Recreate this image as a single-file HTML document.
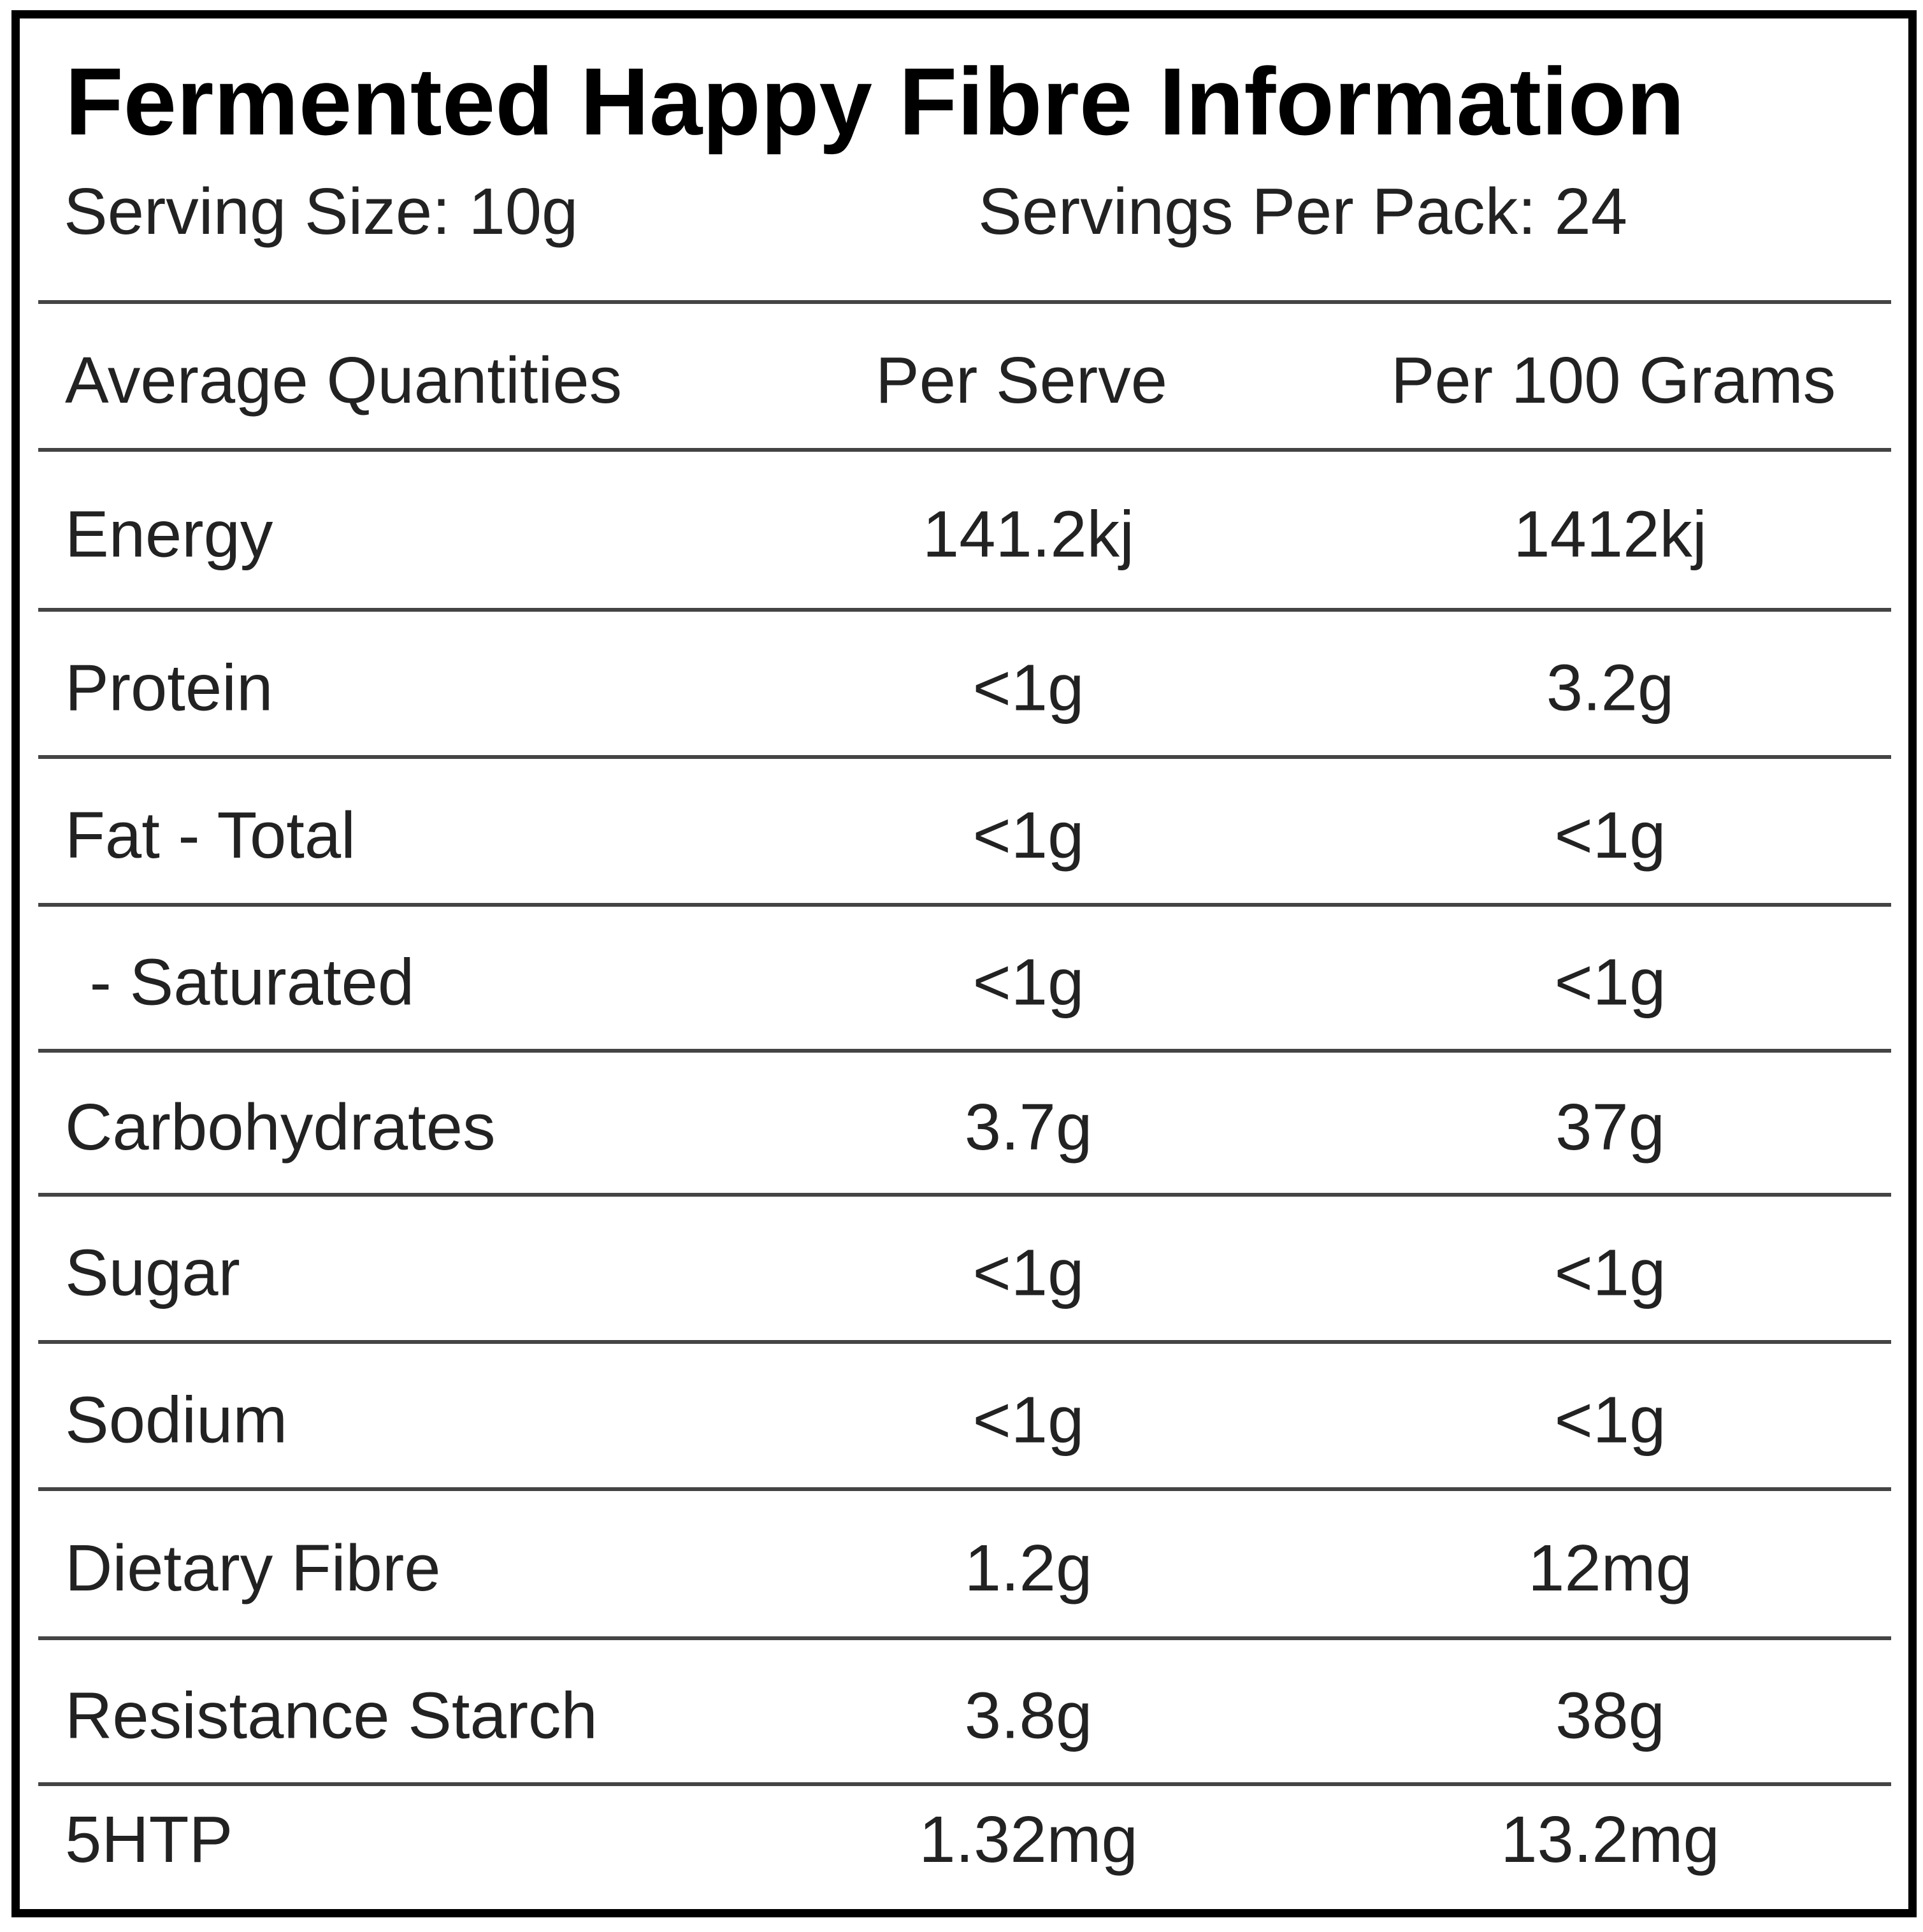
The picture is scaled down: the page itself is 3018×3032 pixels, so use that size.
<!DOCTYPE html>
<html><head><meta charset="utf-8"><title>Fermented Happy Fibre Information</title>
<style>
html,body{margin:0;padding:0;background:#fff;}
body{width:3018px;height:3032px;overflow:hidden;position:relative;}
svg{position:absolute;left:0;top:0;}
</style></head>
<body>
<svg id="panel" width="3018" height="3032" viewBox="0 0 3018 3032" xmlns="http://www.w3.org/2000/svg">
  <rect x="24.5" y="22.5" width="2977" height="2980" fill="#fff" stroke="#000" stroke-width="13"/>
  <text x="102" y="211" font-family="Liberation Sans, sans-serif" font-weight="bold" font-size="150" fill="#000">Fermented Happy Fibre Information</text>
  <text x="100" y="367" font-family="Liberation Sans, sans-serif" font-size="103" fill="#222">Serving Size: 10g</text>
  <text x="1535" y="367" font-family="Liberation Sans, sans-serif" font-size="103" fill="#222">Servings Per Pack: 24</text>
  <g id="rows"></g>
</svg>
<script>
const labels = ["Average Quantities","Energy","Protein","Fat - Total"," - Saturated","Carbohydrates","Sugar","Sodium","Dietary Fibre","Resistance Starch","5HTP"];
const perServe = ["Per Serve","141.2kj","<1g","<1g","<1g","3.7g","<1g","<1g","1.2g","3.8g","1.32mg"];
const per100 = ["Per 100 Grams","1412kj","3.2g","<1g","<1g","37g","<1g","<1g","12mg","38g","13.2mg"];
const lineYs = [474,706,957,1188,1420,1649,1875,2106,2337,2571,2800,3040];
const NS = "http://www.w3.org/2000/svg";
const g = document.getElementById('rows');
function txt(s, x, y, anchor){
  const t = document.createElementNS(NS,'text');
  t.setAttribute('x', x); t.setAttribute('y', y);
  t.setAttribute('font-family','Liberation Sans, sans-serif');
  t.setAttribute('font-size','103'); t.setAttribute('fill','#222');
  t.setAttribute('text-anchor', anchor);
  t.setAttribute('xml:space','preserve');
  t.textContent = s; g.appendChild(t); return t;
}
for (let i = 0; i < 11; i++) {
  const ln = document.createElementNS(NS,'rect');
  ln.setAttribute('x', 60); ln.setAttribute('y', lineYs[i] - 3);
  ln.setAttribute('width', 2908); ln.setAttribute('height', 6);
  ln.setAttribute('fill', '#444');
  
  
  g.appendChild(ln);
  const base = i < 10 ? (lineYs[i] + lineYs[i+1]) / 2 + 42 : 2922;
  const a = txt(labels[i].replace(/^ /,'\u00a0'), i === 4 ? 112 : 102, base, 'start');
  
  
  const b = txt(perServe[i], i === 0 ? 1603 : 1614, base, 'middle');
  
  
  const c = txt(per100[i], i === 0 ? 2532 : 2527, base, 'middle');
  
  
}
</script>
</body></html>
